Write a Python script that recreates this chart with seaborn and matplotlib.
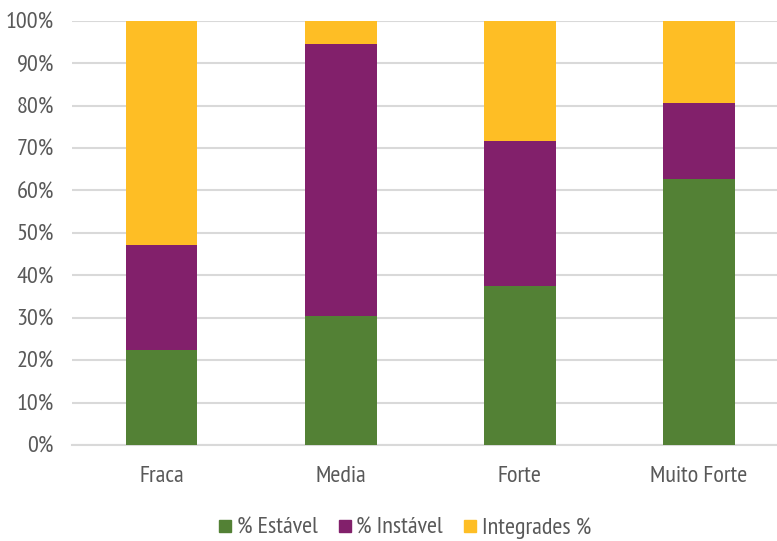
import matplotlib
matplotlib.use("Agg")
import matplotlib.pyplot as plt
from matplotlib.lines import Line2D
import numpy as np
import pandas as pd
import seaborn as sns

categories = ["Fraca", "Media", "Forte", "Muito Forte"]
estavel = [22.4, 30.3, 37.5, 62.7]
instavel = [24.7, 64.2, 34.1, 17.9]
integrades = [52.9, 5.5, 28.4, 19.4]
series_names = ["% Estável", "% Instável", "Integrades %"]
colors = ["#538135", "#82206B", "#FEBE25"]
y_ticks = [0, 10, 20, 30, 40, 50, 60, 70, 80, 90, 100]

sns.set_theme(style="white")
plt.rcParams["font.family"] = ["PT Sans Narrow", "DejaVu Sans"]

df = pd.DataFrame({"cat": categories,
                   "estavel": estavel,
                   "instavel": instavel,
                   "integrades": integrades})
df["c1"] = df["estavel"]
df["c2"] = df["estavel"] + df["instavel"]
df["c3"] = df["c2"] + df["integrades"]

fig = plt.figure(figsize=(7.77, 5.41), dpi=100)
ax = fig.add_axes([72 / 777, (541 - 445) / 541, 1 - 72 / 777, (445 - 20.7) / 541])

# stacked bars: draw cumulative totals from the top segment down
for col, c in zip(["c3", "c2", "c1"], colors[::-1]):
    sns.barplot(data=df, x="cat", y=col, color=c, width=0.4, ax=ax,
                saturation=1, edgecolor="none", linewidth=0, zorder=3)

ax.set_ylim(0, 100)
ax.set_xlim(-0.5, 3.5 - 11.5 / 179)
ax.set_yticks(y_ticks)
ax.set_yticklabels([f"{v}%" for v in y_ticks])
ax.yaxis.grid(True, color="#D9D9D9", linewidth=1.5, zorder=0)
ax.set_axisbelow(True)
for s in ["top", "right", "left"]:
    ax.spines[s].set_visible(False)
ax.spines["bottom"].set_color("#D9D9D9")
ax.spines["bottom"].set_linewidth(1.5)
ax.set_xlabel("")
ax.set_ylabel("")
ax.tick_params(axis="both", length=0, labelsize=17.5, colors="#595959")
ax.tick_params(axis="y", pad=13)
ax.tick_params(axis="x", pad=15)

handles = [Line2D([0], [0], marker="s", linestyle="none", markersize=8.5,
                  markerfacecolor=c, markeredgecolor=c) for c in colors]
fig.legend(handles, series_names, loc="center", ncol=3, frameon=False,
           bbox_to_anchor=(0.521, 0.024), fontsize=17.5, labelcolor="#595959",
           handlelength=0.55, handletextpad=0.2, columnspacing=0.85,
           borderpad=0.0)

fig.savefig("out.png", dpi=100)
